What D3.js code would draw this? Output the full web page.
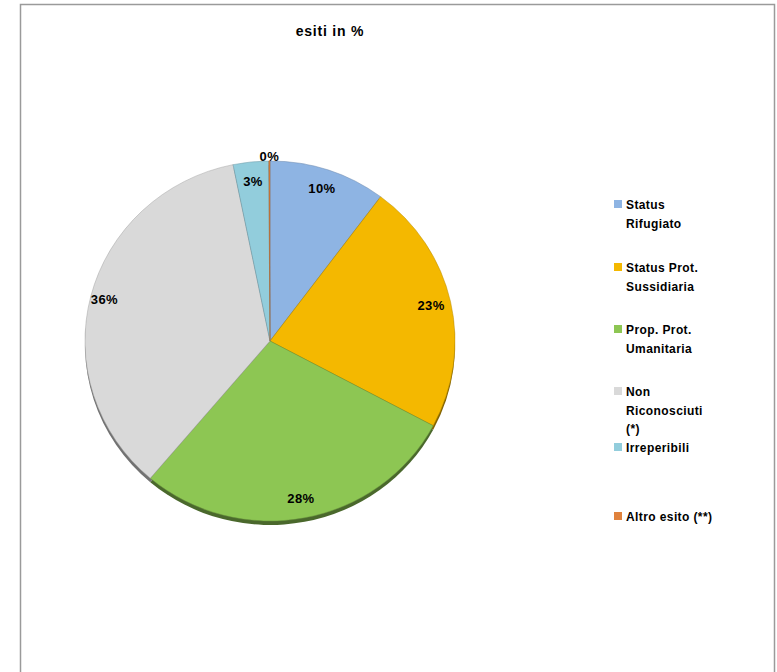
<!DOCTYPE html>
<html><head><meta charset="utf-8">
<script src="https://cdn.jsdelivr.net/npm/d3@7"></script>
<style>body{margin:0;background:#fff}</style></head>
<body><svg id="c" width="777" height="672"></svg>
<script>
// ---- data ----
const title = "esiti in %";
const categories = ["Status Rifugiato","Status Prot. Sussidiaria","Prop. Prot. Umanitaria","Non Riconosciuti (*)","Irreperibili","Altro esito (**)"];
const legendLines = [["Status","Rifugiato"],["Status Prot.","Sussidiaria"],["Prop. Prot.","Umanitaria"],["Non","Riconosciuti","(*)"],["Irreperibili"],["Altro esito (**)"]];
const values = [10.2, 22.6, 28.4, 35.6, 3.1, 0.1];
const labels = ["10%","23%","28%","36%","3%","0%"];
const colors = ["#8EB4E3","#F4B800","#8DC653","#D9D9D9","#92CDDC","#E0823D"];

// ---- layout ----
const svg = d3.select("#c");
const font = "'Liberation Sans', Arial, sans-serif";
svg.append("rect").attr("x",20.5).attr("y",4.5).attr("width",754).attr("height",700)
  .attr("fill","#fff").attr("stroke","#9a9a9a").attr("stroke-width",1.5);

svg.append("text").attr("x",330).attr("y",36).attr("text-anchor","middle")
  .attr("font-family",font).attr("font-weight","bold").attr("font-size",14)
  .attr("letter-spacing",0.8).text(title);

const cx = 270, cy = 341, R = 185, sy = 180/185;
const pie = d3.pie().sort(null).value(d => d)(values);
const arc = d3.arc().innerRadius(0).outerRadius(R);

const shadow = svg.append("g").attr("transform",`translate(${cx},${cy+4}) scale(1,${sy})`);
shadow.selectAll("path").data(pie).join("path")
  .attr("d",arc).attr("fill",(d,i)=>d3.color(colors[i]).darker(1.8));

const g = svg.append("g").attr("transform",`translate(${cx},${cy}) scale(1,${sy})`);
g.selectAll("path").data(pie).join("path")
  .attr("d",arc).attr("fill",(d,i)=>colors[i])
  .attr("stroke",(d,i)=>d3.color(colors[i]).darker(0.8)).attr("stroke-width",0.5);

// labels
const lab = svg.append("g").attr("font-family",font).attr("font-weight","bold").attr("font-size",13);
pie.forEach((d,i)=>{
  const a = (d.startAngle + d.endAngle)/2;
  const r = d.value < 1 ? 190 : (i===3 ? 171 : 165);
  const x = cx + r*Math.sin(a), y = cy - r*Math.cos(a)*sy;
  lab.append("text").attr("x",x).attr("y",y+4.5).attr("text-anchor","middle")
    .attr("letter-spacing",0.4).attr("fill","#000").text(labels[i]);
});

// legend
const legY = [205, 268, 330, 392, 448, 517];
const leg = svg.append("g").attr("font-family",font).attr("font-weight","bold").attr("font-size",12);
legendLines.forEach((lines,i)=>{
  leg.append("rect").attr("x",614).attr("y",legY[i]-5).attr("width",8).attr("height",8).attr("fill",colors[i]);
  lines.forEach((t,j)=>{
    leg.append("text").attr("x",626).attr("y",legY[i]+4+j*18.5).attr("letter-spacing",0.4).text(t);
  });
});
</script></body></html>
